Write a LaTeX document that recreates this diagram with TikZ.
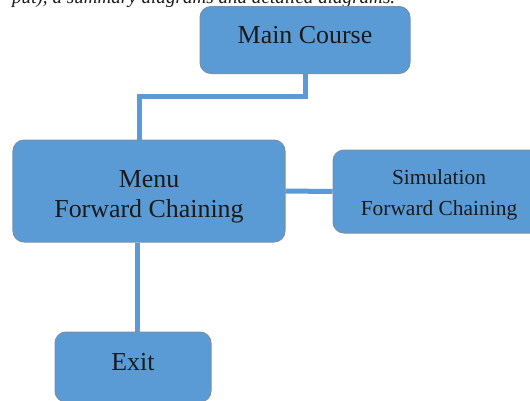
\documentclass[tikz,border=0pt]{standalone}
\usepackage{fontspec}
\setmainfont{Liberation Serif}
\usetikzlibrary{backgrounds}
\definecolor{boxfill}{HTML}{5B9BD5}
\definecolor{boxline}{HTML}{7890AA}
\definecolor{txt}{HTML}{1A1A1A}
\tikzset{
  box/.style={draw=boxline, line width=1bp, fill=boxfill, rounded corners=11bp,
    text=txt, align=center, inner sep=0pt},
  conn/.style={draw=boxfill, line width=5bp},
}
\begin{document}
\begin{tikzpicture}[x=1bp,y=-1bp]
\useasboundingbox (0,0) rectangle (530,400);
\clip (0,0) rectangle (530,400);
\node[anchor=base west, inner sep=0pt, text=txt] (head) at (12,3)
  {\resizebox{383bp}{!}{\itshape put), a summary diagrams and detailed diagrams.}};
\node[box, minimum width=210bp, minimum height=67bp, text depth=10bp,
  font=\fontsize{26}{30}\selectfont] (main) at (305,40) {Main Course};
\node[box, minimum width=272bp, minimum height=102bp,
  font=\fontsize{26}{30}\selectfont] (menu) at (149,191)
  {\rule{0pt}{29bp}Menu\\Forward Chaining};
\node[box, minimum width=212bp, minimum height=83bp,
  font=\fontsize{21.5}{31}\selectfont] (sim) at (439,191.5)
  {\rule{0pt}{21bp}Simulation\\Forward Chaining};
\node[box, minimum width=156bp, minimum height=70bp, text depth=10bp,
  font=\fontsize{26}{30}\selectfont] (exit) at (133,367) {Exit};
\coordinate (j1) at (305,96);
\coordinate (j2) at (139,96);
\coordinate (j3) at (137,0);
\begin{scope}[on background layer]
  \draw[conn] (main.south) -- (j1) -- (j2) -- (j2 |- menu.north);
  \draw[conn] (menu.east) -- (sim.west);
  \draw[conn] (menu.south -| j3) -- (exit.north -| j3);
\end{scope}
\end{tikzpicture}
\end{document}
